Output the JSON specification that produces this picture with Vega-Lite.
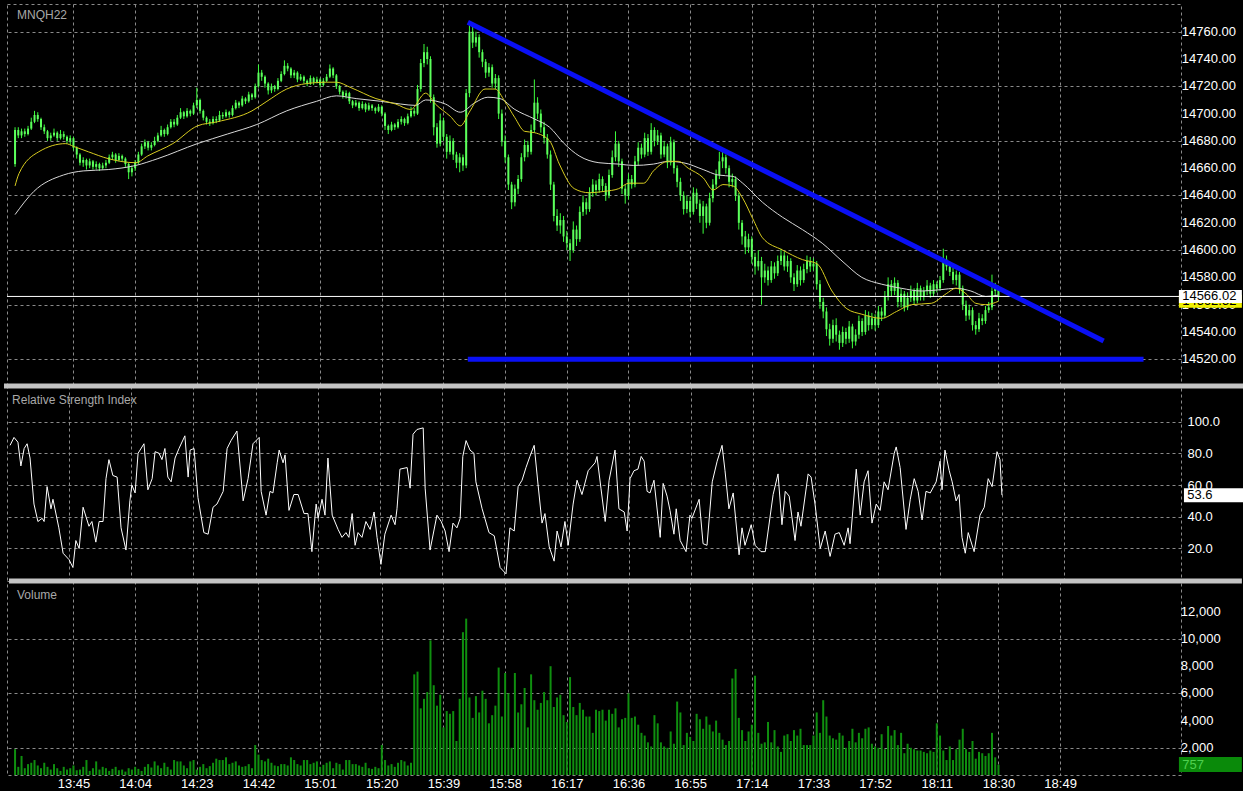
{
"$schema":"https://vega.github.io/schema/vega-lite/v6.json",
"background":"#000000",
"padding":{"left":0,"top":3,"right":0,"bottom":0},
"spacing":0,
"bounds":"flush",
"config":{
 "view":{"stroke":"#8a8a8a","strokeDash":[3,3]},
 "axis":{"gridColor":"#8a8a8a","gridDash":[3,3],"gridOpacity":1,"gridWidth":1,"labelColor":"#ffffff","labelFont":"Liberation Sans","labelFontSize":13,"labelOverlap":false,"labelBound":false,"labelFlush":false,"domain":false,"ticks":false,"title":null},
 "text":{"font":"Liberation Sans"}
},
"datasets":{
"one":[{}],
"plab":[{"p":14520},{"p":14540},{"p":14560},{"p":14580},{"p":14600},{"p":14620},{"p":14640},{"p":14660},{"p":14680},{"p":14700},{"p":14720},{"p":14740},{"p":14760}],
"vlab":[{"q":2000},{"q":4000},{"q":6000},{"q":8000},{"q":10000},{"q":12000}],
"bars":[
{"t":807,"o":14663,"h":14690,"l":14661,"c":14688,"v":1900},
{"t":808,"o":14688,"h":14690,"l":14682,"c":14684,"v":600},
{"t":809,"o":14684,"h":14689,"l":14682,"c":14687,"v":1400},
{"t":810,"o":14687,"h":14689,"l":14683,"c":14685,"v":500},
{"t":811,"o":14685,"h":14691,"l":14684,"c":14689,"v":800},
{"t":812,"o":14689,"h":14697,"l":14688,"c":14694,"v":900},
{"t":813,"o":14694,"h":14702,"l":14693,"c":14699,"v":1100},
{"t":814,"o":14699,"h":14701,"l":14694,"c":14696,"v":700},
{"t":815,"o":14696,"h":14697,"l":14688,"c":14690,"v":500},
{"t":816,"o":14690,"h":14692,"l":14685,"c":14687,"v":900},
{"t":817,"o":14687,"h":14688,"l":14680,"c":14682,"v":600},
{"t":818,"o":14682,"h":14686,"l":14680,"c":14684,"v":400},
{"t":819,"o":14684,"h":14689,"l":14683,"c":14686,"v":800},
{"t":820,"o":14686,"h":14687,"l":14680,"c":14682,"v":500},
{"t":821,"o":14682,"h":14688,"l":14681,"c":14685,"v":300},
{"t":822,"o":14685,"h":14687,"l":14681,"c":14683,"v":600},
{"t":823,"o":14683,"h":14684,"l":14678,"c":14680,"v":400},
{"t":824,"o":14680,"h":14684,"l":14677,"c":14682,"v":500},
{"t":825,"o":14682,"h":14683,"l":14673,"c":14675,"v":700},
{"t":826,"o":14675,"h":14676,"l":14667,"c":14670,"v":350},
{"t":827,"o":14670,"h":14671,"l":14662,"c":14664,"v":400},
{"t":828,"o":14664,"h":14668,"l":14661,"c":14666,"v":600},
{"t":829,"o":14666,"h":14667,"l":14659,"c":14662,"v":1100},
{"t":830,"o":14662,"h":14667,"l":14660,"c":14665,"v":300},
{"t":831,"o":14665,"h":14666,"l":14659,"c":14661,"v":500},
{"t":832,"o":14661,"h":14665,"l":14659,"c":14663,"v":1000},
{"t":833,"o":14663,"h":14664,"l":14658,"c":14660,"v":400},
{"t":834,"o":14660,"h":14664,"l":14659,"c":14662,"v":600},
{"t":835,"o":14662,"h":14666,"l":14660,"c":14664,"v":500},
{"t":836,"o":14664,"h":14670,"l":14663,"c":14668,"v":300},
{"t":837,"o":14668,"h":14672,"l":14666,"c":14670,"v":450},
{"t":838,"o":14670,"h":14671,"l":14664,"c":14666,"v":600},
{"t":839,"o":14666,"h":14671,"l":14665,"c":14669,"v":350},
{"t":840,"o":14669,"h":14670,"l":14665,"c":14667,"v":400},
{"t":841,"o":14667,"h":14668,"l":14661,"c":14663,"v":250},
{"t":842,"o":14663,"h":14664,"l":14652,"c":14657,"v":500},
{"t":843,"o":14657,"h":14662,"l":14654,"c":14660,"v":400},
{"t":844,"o":14660,"h":14666,"l":14658,"c":14664,"v":600},
{"t":845,"o":14664,"h":14672,"l":14663,"c":14670,"v":450},
{"t":846,"o":14670,"h":14678,"l":14669,"c":14676,"v":300},
{"t":847,"o":14676,"h":14681,"l":14674,"c":14679,"v":600},
{"t":848,"o":14679,"h":14680,"l":14673,"c":14675,"v":800},
{"t":849,"o":14675,"h":14679,"l":14673,"c":14677,"v":550},
{"t":850,"o":14677,"h":14683,"l":14676,"c":14680,"v":1000},
{"t":851,"o":14680,"h":14686,"l":14679,"c":14684,"v":700},
{"t":852,"o":14684,"h":14691,"l":14683,"c":14688,"v":500},
{"t":853,"o":14688,"h":14689,"l":14683,"c":14685,"v":900},
{"t":854,"o":14685,"h":14692,"l":14684,"c":14690,"v":600},
{"t":855,"o":14690,"h":14696,"l":14689,"c":14694,"v":400},
{"t":856,"o":14694,"h":14696,"l":14690,"c":14692,"v":1100},
{"t":857,"o":14692,"h":14699,"l":14691,"c":14697,"v":1000},
{"t":858,"o":14697,"h":14704,"l":14696,"c":14701,"v":1000},
{"t":859,"o":14701,"h":14702,"l":14696,"c":14698,"v":700},
{"t":860,"o":14698,"h":14704,"l":14697,"c":14702,"v":500},
{"t":861,"o":14702,"h":14703,"l":14698,"c":14700,"v":1000},
{"t":862,"o":14700,"h":14708,"l":14699,"c":14706,"v":1100},
{"t":863,"o":14706,"h":14719,"l":14704,"c":14710,"v":400},
{"t":864,"o":14710,"h":14711,"l":14700,"c":14702,"v":600},
{"t":865,"o":14702,"h":14703,"l":14695,"c":14697,"v":800},
{"t":866,"o":14697,"h":14698,"l":14692,"c":14694,"v":500},
{"t":867,"o":14694,"h":14696,"l":14691,"c":14693,"v":650},
{"t":868,"o":14693,"h":14698,"l":14692,"c":14696,"v":900},
{"t":869,"o":14696,"h":14698,"l":14693,"c":14695,"v":1200},
{"t":870,"o":14695,"h":14702,"l":14694,"c":14699,"v":1100},
{"t":871,"o":14699,"h":14701,"l":14696,"c":14698,"v":1100},
{"t":872,"o":14698,"h":14703,"l":14697,"c":14701,"v":1300},
{"t":873,"o":14701,"h":14702,"l":14697,"c":14699,"v":800},
{"t":874,"o":14699,"h":14706,"l":14698,"c":14704,"v":900},
{"t":875,"o":14704,"h":14710,"l":14703,"c":14708,"v":1000},
{"t":876,"o":14708,"h":14709,"l":14704,"c":14706,"v":700},
{"t":877,"o":14706,"h":14713,"l":14705,"c":14711,"v":600},
{"t":878,"o":14711,"h":14712,"l":14707,"c":14709,"v":650},
{"t":879,"o":14709,"h":14716,"l":14708,"c":14714,"v":800},
{"t":880,"o":14714,"h":14715,"l":14710,"c":14712,"v":500},
{"t":881,"o":14712,"h":14722,"l":14711,"c":14720,"v":2200},
{"t":882,"o":14720,"h":14736,"l":14719,"c":14730,"v":1500},
{"t":883,"o":14730,"h":14732,"l":14724,"c":14727,"v":1100},
{"t":884,"o":14727,"h":14728,"l":14719,"c":14722,"v":1000},
{"t":885,"o":14722,"h":14723,"l":14714,"c":14717,"v":1200},
{"t":886,"o":14717,"h":14722,"l":14715,"c":14720,"v":900},
{"t":887,"o":14720,"h":14721,"l":14716,"c":14718,"v":700},
{"t":888,"o":14718,"h":14726,"l":14717,"c":14724,"v":650},
{"t":889,"o":14724,"h":14731,"l":14723,"c":14729,"v":800},
{"t":890,"o":14729,"h":14739,"l":14728,"c":14735,"v":800},
{"t":891,"o":14735,"h":14737,"l":14731,"c":14733,"v":700},
{"t":892,"o":14733,"h":14734,"l":14726,"c":14728,"v":1300},
{"t":893,"o":14728,"h":14732,"l":14726,"c":14730,"v":1100},
{"t":894,"o":14730,"h":14731,"l":14723,"c":14725,"v":800},
{"t":895,"o":14725,"h":14729,"l":14724,"c":14727,"v":700},
{"t":896,"o":14727,"h":14728,"l":14722,"c":14724,"v":1100},
{"t":897,"o":14724,"h":14725,"l":14720,"c":14722,"v":1100},
{"t":898,"o":14722,"h":14728,"l":14721,"c":14726,"v":800},
{"t":899,"o":14726,"h":14727,"l":14721,"c":14723,"v":900},
{"t":900,"o":14723,"h":14727,"l":14722,"c":14725,"v":1000},
{"t":901,"o":14725,"h":14726,"l":14719,"c":14721,"v":600},
{"t":902,"o":14721,"h":14726,"l":14720,"c":14724,"v":750},
{"t":903,"o":14724,"h":14729,"l":14723,"c":14727,"v":900},
{"t":904,"o":14727,"h":14736,"l":14726,"c":14733,"v":1000},
{"t":905,"o":14733,"h":14734,"l":14726,"c":14728,"v":500},
{"t":906,"o":14728,"h":14729,"l":14718,"c":14720,"v":900},
{"t":907,"o":14720,"h":14721,"l":14714,"c":14716,"v":800},
{"t":908,"o":14716,"h":14717,"l":14711,"c":14713,"v":400},
{"t":909,"o":14713,"h":14717,"l":14711,"c":14715,"v":1100},
{"t":910,"o":14715,"h":14716,"l":14707,"c":14709,"v":1100},
{"t":911,"o":14709,"h":14710,"l":14704,"c":14706,"v":800},
{"t":912,"o":14706,"h":14710,"l":14705,"c":14708,"v":800},
{"t":913,"o":14708,"h":14709,"l":14702,"c":14704,"v":700},
{"t":914,"o":14704,"h":14709,"l":14703,"c":14707,"v":600},
{"t":915,"o":14707,"h":14708,"l":14701,"c":14703,"v":900},
{"t":916,"o":14703,"h":14708,"l":14702,"c":14706,"v":500},
{"t":917,"o":14706,"h":14707,"l":14702,"c":14704,"v":450},
{"t":918,"o":14704,"h":14705,"l":14700,"c":14702,"v":600},
{"t":919,"o":14702,"h":14707,"l":14701,"c":14705,"v":500},
{"t":920,"o":14705,"h":14706,"l":14698,"c":14700,"v":2200},
{"t":921,"o":14700,"h":14701,"l":14688,"c":14691,"v":1100},
{"t":922,"o":14691,"h":14692,"l":14685,"c":14688,"v":700},
{"t":923,"o":14688,"h":14694,"l":14687,"c":14692,"v":800},
{"t":924,"o":14692,"h":14693,"l":14688,"c":14690,"v":600},
{"t":925,"o":14690,"h":14696,"l":14689,"c":14694,"v":900},
{"t":926,"o":14694,"h":14698,"l":14692,"c":14696,"v":1100},
{"t":927,"o":14696,"h":14697,"l":14691,"c":14693,"v":1000},
{"t":928,"o":14693,"h":14700,"l":14692,"c":14698,"v":700},
{"t":929,"o":14698,"h":14705,"l":14697,"c":14702,"v":900},
{"t":930,"o":14702,"h":14704,"l":14698,"c":14700,"v":7400},
{"t":931,"o":14700,"h":14721,"l":14699,"c":14718,"v":7600},
{"t":932,"o":14718,"h":14740,"l":14716,"c":14737,"v":4900},
{"t":933,"o":14737,"h":14751,"l":14734,"c":14745,"v":5600},
{"t":934,"o":14745,"h":14749,"l":14736,"c":14740,"v":6100},
{"t":935,"o":14740,"h":14742,"l":14708,"c":14712,"v":9900},
{"t":936,"o":14712,"h":14714,"l":14684,"c":14690,"v":6600},
{"t":937,"o":14690,"h":14693,"l":14675,"c":14678,"v":5100},
{"t":938,"o":14678,"h":14700,"l":14676,"c":14695,"v":5900},
{"t":939,"o":14695,"h":14697,"l":14680,"c":14683,"v":3500},
{"t":940,"o":14683,"h":14685,"l":14667,"c":14672,"v":4700},
{"t":941,"o":14672,"h":14684,"l":14670,"c":14680,"v":4500},
{"t":942,"o":14680,"h":14682,"l":14666,"c":14670,"v":4700},
{"t":943,"o":14670,"h":14672,"l":14660,"c":14664,"v":2500},
{"t":944,"o":14664,"h":14671,"l":14657,"c":14668,"v":5600},
{"t":945,"o":14668,"h":14670,"l":14658,"c":14662,"v":10500},
{"t":946,"o":14662,"h":14718,"l":14660,"c":14715,"v":11500},
{"t":947,"o":14715,"h":14767,"l":14712,"c":14760,"v":5700},
{"t":948,"o":14760,"h":14764,"l":14748,"c":14752,"v":4200},
{"t":949,"o":14752,"h":14760,"l":14749,"c":14756,"v":5800},
{"t":950,"o":14756,"h":14758,"l":14741,"c":14745,"v":4600},
{"t":951,"o":14745,"h":14747,"l":14734,"c":14738,"v":6200},
{"t":952,"o":14738,"h":14740,"l":14726,"c":14730,"v":5600},
{"t":953,"o":14730,"h":14737,"l":14727,"c":14734,"v":3800},
{"t":954,"o":14734,"h":14736,"l":14719,"c":14722,"v":4400},
{"t":955,"o":14722,"h":14729,"l":14718,"c":14726,"v":5100},
{"t":956,"o":14726,"h":14728,"l":14696,"c":14700,"v":7900},
{"t":957,"o":14700,"h":14703,"l":14676,"c":14680,"v":4300},
{"t":958,"o":14680,"h":14684,"l":14664,"c":14668,"v":7500},
{"t":959,"o":14668,"h":14670,"l":14644,"c":14648,"v":6000},
{"t":960,"o":14648,"h":14650,"l":14630,"c":14635,"v":2000},
{"t":961,"o":14635,"h":14648,"l":14632,"c":14645,"v":7500},
{"t":962,"o":14645,"h":14655,"l":14641,"c":14652,"v":4600},
{"t":963,"o":14652,"h":14671,"l":14650,"c":14668,"v":5200},
{"t":964,"o":14668,"h":14681,"l":14665,"c":14677,"v":6400},
{"t":965,"o":14677,"h":14680,"l":14668,"c":14672,"v":3500},
{"t":966,"o":14672,"h":14692,"l":14670,"c":14688,"v":7400},
{"t":967,"o":14688,"h":14725,"l":14686,"c":14708,"v":5500},
{"t":968,"o":14708,"h":14712,"l":14696,"c":14700,"v":4800},
{"t":969,"o":14700,"h":14703,"l":14686,"c":14690,"v":5300},
{"t":970,"o":14690,"h":14694,"l":14678,"c":14682,"v":6100},
{"t":971,"o":14682,"h":14685,"l":14667,"c":14670,"v":5500},
{"t":972,"o":14670,"h":14673,"l":14644,"c":14648,"v":8000},
{"t":973,"o":14648,"h":14650,"l":14621,"c":14625,"v":5000},
{"t":974,"o":14625,"h":14630,"l":14614,"c":14618,"v":5700},
{"t":975,"o":14618,"h":14627,"l":14612,"c":14622,"v":5900},
{"t":976,"o":14622,"h":14625,"l":14606,"c":14610,"v":4400},
{"t":977,"o":14610,"h":14614,"l":14600,"c":14605,"v":3900},
{"t":978,"o":14605,"h":14608,"l":14592,"c":14600,"v":7200},
{"t":979,"o":14600,"h":14621,"l":14598,"c":14615,"v":5000},
{"t":980,"o":14615,"h":14618,"l":14603,"c":14608,"v":4400},
{"t":981,"o":14608,"h":14632,"l":14606,"c":14628,"v":5300},
{"t":982,"o":14628,"h":14640,"l":14625,"c":14635,"v":4800},
{"t":983,"o":14635,"h":14638,"l":14626,"c":14630,"v":4300},
{"t":984,"o":14630,"h":14646,"l":14628,"c":14642,"v":4300},
{"t":985,"o":14642,"h":14652,"l":14639,"c":14648,"v":3100},
{"t":986,"o":14648,"h":14651,"l":14640,"c":14644,"v":4800},
{"t":987,"o":14644,"h":14656,"l":14642,"c":14652,"v":4700},
{"t":988,"o":14652,"h":14654,"l":14643,"c":14647,"v":4800},
{"t":989,"o":14647,"h":14649,"l":14636,"c":14640,"v":4000},
{"t":990,"o":14640,"h":14659,"l":14638,"c":14655,"v":4800},
{"t":991,"o":14655,"h":14673,"l":14653,"c":14668,"v":4500},
{"t":992,"o":14668,"h":14687,"l":14665,"c":14678,"v":4900},
{"t":993,"o":14678,"h":14680,"l":14661,"c":14665,"v":3500},
{"t":994,"o":14665,"h":14667,"l":14641,"c":14645,"v":4100},
{"t":995,"o":14645,"h":14648,"l":14634,"c":14640,"v":4200},
{"t":996,"o":14640,"h":14656,"l":14637,"c":14652,"v":6000},
{"t":997,"o":14652,"h":14655,"l":14645,"c":14648,"v":4200},
{"t":998,"o":14648,"h":14669,"l":14646,"c":14665,"v":4300},
{"t":999,"o":14665,"h":14679,"l":14662,"c":14675,"v":3700},
{"t":1000,"o":14675,"h":14678,"l":14667,"c":14670,"v":3100},
{"t":1001,"o":14670,"h":14686,"l":14668,"c":14682,"v":2900},
{"t":1002,"o":14682,"h":14685,"l":14669,"c":14672,"v":2400},
{"t":1003,"o":14672,"h":14693,"l":14670,"c":14688,"v":2100},
{"t":1004,"o":14688,"h":14690,"l":14676,"c":14680,"v":4400},
{"t":1005,"o":14680,"h":14688,"l":14677,"c":14684,"v":3800},
{"t":1006,"o":14684,"h":14686,"l":14667,"c":14670,"v":2400},
{"t":1007,"o":14670,"h":14680,"l":14668,"c":14676,"v":2100},
{"t":1008,"o":14676,"h":14678,"l":14660,"c":14664,"v":2000},
{"t":1009,"o":14664,"h":14683,"l":14662,"c":14679,"v":3200},
{"t":1010,"o":14679,"h":14681,"l":14656,"c":14660,"v":2300},
{"t":1011,"o":14660,"h":14662,"l":14646,"c":14650,"v":5400},
{"t":1012,"o":14650,"h":14653,"l":14636,"c":14640,"v":4600},
{"t":1013,"o":14640,"h":14643,"l":14626,"c":14630,"v":2200},
{"t":1014,"o":14630,"h":14640,"l":14627,"c":14636,"v":3100},
{"t":1015,"o":14636,"h":14639,"l":14624,"c":14628,"v":2800},
{"t":1016,"o":14628,"h":14646,"l":14626,"c":14642,"v":2500},
{"t":1017,"o":14642,"h":14645,"l":14630,"c":14634,"v":4500},
{"t":1018,"o":14634,"h":14637,"l":14620,"c":14625,"v":4100},
{"t":1019,"o":14625,"h":14636,"l":14612,"c":14632,"v":3400},
{"t":1020,"o":14632,"h":14634,"l":14616,"c":14620,"v":4300},
{"t":1021,"o":14620,"h":14642,"l":14618,"c":14638,"v":3700},
{"t":1022,"o":14638,"h":14652,"l":14635,"c":14648,"v":3200},
{"t":1023,"o":14648,"h":14659,"l":14645,"c":14655,"v":4000},
{"t":1024,"o":14655,"h":14672,"l":14652,"c":14665,"v":3100},
{"t":1025,"o":14665,"h":14672,"l":14660,"c":14668,"v":2600},
{"t":1026,"o":14668,"h":14670,"l":14656,"c":14660,"v":2200},
{"t":1027,"o":14660,"h":14662,"l":14646,"c":14650,"v":2500},
{"t":1028,"o":14650,"h":14656,"l":14646,"c":14652,"v":7100},
{"t":1029,"o":14652,"h":14654,"l":14636,"c":14640,"v":7800},
{"t":1030,"o":14640,"h":14642,"l":14615,"c":14620,"v":4200},
{"t":1031,"o":14620,"h":14622,"l":14604,"c":14610,"v":3300},
{"t":1032,"o":14610,"h":14614,"l":14597,"c":14602,"v":2500},
{"t":1033,"o":14602,"h":14612,"l":14598,"c":14608,"v":3200},
{"t":1034,"o":14608,"h":14610,"l":14590,"c":14595,"v":3700},
{"t":1035,"o":14595,"h":14598,"l":14582,"c":14588,"v":7300},
{"t":1036,"o":14588,"h":14600,"l":14585,"c":14592,"v":3100},
{"t":1037,"o":14592,"h":14595,"l":14560,"c":14580,"v":2300},
{"t":1038,"o":14580,"h":14590,"l":14576,"c":14585,"v":2400},
{"t":1039,"o":14585,"h":14588,"l":14574,"c":14578,"v":3900},
{"t":1040,"o":14578,"h":14592,"l":14576,"c":14588,"v":2400},
{"t":1041,"o":14588,"h":14591,"l":14579,"c":14583,"v":3300},
{"t":1042,"o":14583,"h":14596,"l":14581,"c":14592,"v":2100},
{"t":1043,"o":14592,"h":14601,"l":14589,"c":14596,"v":1700},
{"t":1044,"o":14596,"h":14599,"l":14585,"c":14588,"v":2900},
{"t":1045,"o":14588,"h":14596,"l":14584,"c":14592,"v":3000},
{"t":1046,"o":14592,"h":14594,"l":14576,"c":14580,"v":2500},
{"t":1047,"o":14580,"h":14583,"l":14570,"c":14575,"v":3300},
{"t":1048,"o":14575,"h":14589,"l":14573,"c":14585,"v":2900},
{"t":1049,"o":14585,"h":14588,"l":14574,"c":14578,"v":3400},
{"t":1050,"o":14578,"h":14590,"l":14576,"c":14586,"v":2200},
{"t":1051,"o":14586,"h":14596,"l":14583,"c":14592,"v":2200},
{"t":1052,"o":14592,"h":14595,"l":14584,"c":14588,"v":2200},
{"t":1053,"o":14588,"h":14594,"l":14585,"c":14590,"v":2900},
{"t":1054,"o":14590,"h":14592,"l":14571,"c":14575,"v":4600},
{"t":1055,"o":14575,"h":14578,"l":14557,"c":14562,"v":3100},
{"t":1056,"o":14562,"h":14565,"l":14550,"c":14555,"v":5500},
{"t":1057,"o":14555,"h":14558,"l":14537,"c":14542,"v":4300},
{"t":1058,"o":14542,"h":14546,"l":14530,"c":14535,"v":2900},
{"t":1059,"o":14535,"h":14549,"l":14532,"c":14545,"v":2700},
{"t":1060,"o":14545,"h":14550,"l":14533,"c":14538,"v":2600},
{"t":1061,"o":14538,"h":14541,"l":14527,"c":14532,"v":3100},
{"t":1062,"o":14532,"h":14544,"l":14529,"c":14540,"v":2900},
{"t":1063,"o":14540,"h":14543,"l":14531,"c":14535,"v":2000},
{"t":1064,"o":14535,"h":14548,"l":14532,"c":14544,"v":2500},
{"t":1065,"o":14544,"h":14546,"l":14528,"c":14533,"v":3400},
{"t":1066,"o":14533,"h":14542,"l":14530,"c":14538,"v":2400},
{"t":1067,"o":14538,"h":14552,"l":14535,"c":14548,"v":3100},
{"t":1068,"o":14548,"h":14550,"l":14537,"c":14540,"v":2700},
{"t":1069,"o":14540,"h":14556,"l":14538,"c":14552,"v":3400},
{"t":1070,"o":14552,"h":14555,"l":14541,"c":14545,"v":3500},
{"t":1071,"o":14545,"h":14554,"l":14542,"c":14550,"v":2300},
{"t":1072,"o":14550,"h":14553,"l":14541,"c":14545,"v":2100},
{"t":1073,"o":14545,"h":14559,"l":14543,"c":14555,"v":2000},
{"t":1074,"o":14555,"h":14558,"l":14548,"c":14552,"v":3000},
{"t":1075,"o":14552,"h":14570,"l":14550,"c":14566,"v":1900},
{"t":1076,"o":14566,"h":14580,"l":14563,"c":14575,"v":3600},
{"t":1077,"o":14575,"h":14578,"l":14566,"c":14570,"v":2900},
{"t":1078,"o":14570,"h":14580,"l":14567,"c":14576,"v":3300},
{"t":1079,"o":14576,"h":14578,"l":14558,"c":14562,"v":2200},
{"t":1080,"o":14562,"h":14572,"l":14558,"c":14568,"v":3100},
{"t":1081,"o":14568,"h":14570,"l":14555,"c":14558,"v":1600},
{"t":1082,"o":14558,"h":14569,"l":14556,"c":14565,"v":2300},
{"t":1083,"o":14565,"h":14574,"l":14562,"c":14570,"v":2000},
{"t":1084,"o":14570,"h":14572,"l":14560,"c":14563,"v":1900},
{"t":1085,"o":14563,"h":14576,"l":14561,"c":14572,"v":1800},
{"t":1086,"o":14572,"h":14574,"l":14563,"c":14566,"v":1800},
{"t":1087,"o":14566,"h":14573,"l":14563,"c":14570,"v":1700},
{"t":1088,"o":14570,"h":14578,"l":14567,"c":14574,"v":1600},
{"t":1089,"o":14574,"h":14576,"l":14565,"c":14568,"v":1800},
{"t":1090,"o":14568,"h":14578,"l":14566,"c":14575,"v":1700},
{"t":1091,"o":14575,"h":14577,"l":14569,"c":14572,"v":3800},
{"t":1092,"o":14572,"h":14581,"l":14570,"c":14578,"v":2900},
{"t":1093,"o":14578,"h":14601,"l":14576,"c":14593,"v":1800},
{"t":1094,"o":14593,"h":14596,"l":14585,"c":14588,"v":1100},
{"t":1095,"o":14588,"h":14591,"l":14581,"c":14584,"v":2100},
{"t":1096,"o":14584,"h":14587,"l":14575,"c":14578,"v":1100},
{"t":1097,"o":14578,"h":14585,"l":14574,"c":14582,"v":1900},
{"t":1098,"o":14582,"h":14584,"l":14568,"c":14572,"v":2600},
{"t":1099,"o":14572,"h":14574,"l":14556,"c":14560,"v":3400},
{"t":1100,"o":14560,"h":14563,"l":14548,"c":14552,"v":1900},
{"t":1101,"o":14552,"h":14560,"l":14549,"c":14556,"v":1700},
{"t":1102,"o":14556,"h":14558,"l":14541,"c":14545,"v":2500},
{"t":1103,"o":14545,"h":14548,"l":14538,"c":14542,"v":1200},
{"t":1104,"o":14542,"h":14554,"l":14540,"c":14550,"v":1700},
{"t":1105,"o":14550,"h":14553,"l":14545,"c":14548,"v":1600},
{"t":1106,"o":14548,"h":14559,"l":14546,"c":14556,"v":1400},
{"t":1107,"o":14556,"h":14562,"l":14554,"c":14558,"v":1600},
{"t":1108,"o":14558,"h":14582,"l":14556,"c":14570,"v":3100},
{"t":1109,"o":14570,"h":14576,"l":14566,"c":14572,"v":1300},
{"t":1110,"o":14572,"h":14574,"l":14563,"c":14566.02,"v":757}
],
"ma1":[
{"t":807,"v":14647},{"t":808.2,"v":14656},{"t":814.3,"v":14672},{"t":822.6,"v":14678},{"t":825,"v":14676},{"t":829.6,"v":14672},{"t":835.7,"v":14667},{"t":844.2,"v":14664},{"t":847.9,"v":14669},{"t":855.6,"v":14678},{"t":863.2,"v":14691},{"t":869.3,"v":14694},{"t":880,"v":14702},{"t":884.6,"v":14709},{"t":890.7,"v":14718},{"t":896.8,"v":14722},{"t":902.9,"v":14723},{"t":906,"v":14723},{"t":910.5,"v":14719},{"t":918.2,"v":14711},{"t":924.3,"v":14707},{"t":928.9,"v":14703},{"t":933.5,"v":14715},{"t":936.5,"v":14707},{"t":941.1,"v":14698},{"t":944.2,"v":14691},{"t":947.2,"v":14702},{"t":951.8,"v":14718},{"t":954.9,"v":14718},{"t":957.9,"v":14709},{"t":961,"v":14697},{"t":964,"v":14687},{"t":967.1,"v":14686},{"t":971.7,"v":14680},{"t":974.7,"v":14663},{"t":979.3,"v":14645},{"t":983.9,"v":14642},{"t":988.5,"v":14643},{"t":993,"v":14645},{"t":996.1,"v":14649},{"t":1000.7,"v":14649},{"t":1003.7,"v":14658},{"t":1008.3,"v":14665},{"t":1011.4,"v":14665},{"t":1014.4,"v":14660},{"t":1019,"v":14653},{"t":1022.1,"v":14644},{"t":1025.1,"v":14648},{"t":1028.2,"v":14647},{"t":1031.2,"v":14638},{"t":1034.3,"v":14623},{"t":1037.3,"v":14609},{"t":1043.5,"v":14600},{"t":1049.6,"v":14593},{"t":1054.1,"v":14590},{"t":1058.7,"v":14570},{"t":1063.3,"v":14557},{"t":1067.9,"v":14553},{"t":1074,"v":14550},{"t":1078.6,"v":14555},{"t":1083.2,"v":14560},{"t":1089.3,"v":14561},{"t":1093.9,"v":14568},{"t":1096.9,"v":14572},{"t":1100,"v":14568},{"t":1103,"v":14561},{"t":1106.1,"v":14560},{"t":1110,"v":14562.5}
],
"ma2":[
{"t":807,"v":14626},{"t":812.8,"v":14643},{"t":821.9,"v":14655},{"t":828,"v":14658},{"t":835.7,"v":14659},{"t":844.2,"v":14662},{"t":851,"v":14667},{"t":863.2,"v":14678},{"t":872.4,"v":14685},{"t":881.5,"v":14692},{"t":890.7,"v":14702},{"t":899.9,"v":14709},{"t":906,"v":14713},{"t":912.1,"v":14711},{"t":919.7,"v":14709},{"t":925.8,"v":14707},{"t":930.4,"v":14706},{"t":933.5,"v":14710},{"t":939.6,"v":14707},{"t":944.2,"v":14701},{"t":948.7,"v":14708},{"t":952.7,"v":14712},{"t":956.4,"v":14711},{"t":961,"v":14703},{"t":967.1,"v":14696},{"t":971.7,"v":14690},{"t":976.2,"v":14678},{"t":980.8,"v":14669},{"t":986.9,"v":14664},{"t":993,"v":14663},{"t":997.6,"v":14662},{"t":1003.7,"v":14663},{"t":1008.3,"v":14665},{"t":1012.9,"v":14664},{"t":1019,"v":14659},{"t":1023.6,"v":14655},{"t":1028.2,"v":14654},{"t":1031.2,"v":14649},{"t":1037.3,"v":14635},{"t":1043.5,"v":14624},{"t":1049.6,"v":14615},{"t":1055.7,"v":14605},{"t":1061.8,"v":14592},{"t":1067.9,"v":14580},{"t":1074,"v":14575},{"t":1080.1,"v":14572},{"t":1086.2,"v":14570},{"t":1092.3,"v":14571},{"t":1096.9,"v":14572},{"t":1101.5,"v":14570},{"t":1106.1,"v":14566},{"t":1110,"v":14567}
],
"trend":[
{"k":"a","t":946.5,"p":14767},{"k":"a","t":1142.4,"p":14533.4},
{"k":"b","t":946.5,"p":14520},{"k":"b","t":1154.7,"p":14520}
],
"rsi":[
{"t":807,"r":85},{"t":808.2,"r":90},{"t":809.4,"r":87},{"t":810.3,"r":72},{"t":811.3,"r":83},{"t":812.2,"r":86},{"t":813.1,"r":77},{"t":814.3,"r":48},{"t":815.5,"r":37},{"t":816.8,"r":39},{"t":817.4,"r":37},{"t":818.3,"r":59},{"t":819.5,"r":45},{"t":820.1,"r":51},{"t":821.9,"r":33},{"t":823.2,"r":17},{"t":825,"r":13},{"t":826.2,"r":8},{"t":827.1,"r":25},{"t":828.1,"r":20},{"t":829.3,"r":46},{"t":831.1,"r":34},{"t":832,"r":37},{"t":833.2,"r":24},{"t":834.2,"r":37},{"t":835.4,"r":37},{"t":836.3,"r":64},{"t":837.2,"r":76},{"t":838.4,"r":66},{"t":839.7,"r":65},{"t":840.9,"r":33},{"t":842.4,"r":19},{"t":843.6,"r":50},{"t":844.2,"r":60},{"t":845.2,"r":55},{"t":846.1,"r":80},{"t":847.9,"r":86},{"t":849.1,"r":57},{"t":850.4,"r":64},{"t":851.3,"r":81},{"t":852.5,"r":80},{"t":853.4,"r":76},{"t":854.3,"r":83},{"t":855.2,"r":65},{"t":856.2,"r":62},{"t":857.4,"r":77},{"t":858.6,"r":83},{"t":860.4,"r":91},{"t":861.4,"r":65},{"t":862,"r":82},{"t":863.2,"r":83},{"t":864.4,"r":52},{"t":866.2,"r":30},{"t":867.5,"r":29},{"t":869,"r":46},{"t":870.2,"r":48},{"t":872.1,"r":56},{"t":873.3,"r":83},{"t":874.5,"r":88},{"t":876.3,"r":94},{"t":878.2,"r":50},{"t":879.7,"r":64},{"t":881.2,"r":86},{"t":883.1,"r":90},{"t":883.7,"r":56},{"t":885.2,"r":41},{"t":886.4,"r":56},{"t":887.3,"r":55},{"t":888.6,"r":74},{"t":889.2,"r":82},{"t":890.4,"r":74},{"t":891,"r":79},{"t":892.2,"r":44},{"t":893.7,"r":54},{"t":895,"r":54},{"t":896.8,"r":42},{"t":898,"r":42},{"t":899.2,"r":18},{"t":900.5,"r":48},{"t":901.1,"r":39},{"t":902.3,"r":51},{"t":903.2,"r":41},{"t":904.1,"r":77},{"t":905.4,"r":41},{"t":907.2,"r":32},{"t":908.4,"r":27},{"t":909.6,"r":30},{"t":910.5,"r":27},{"t":911.5,"r":42},{"t":912.4,"r":22},{"t":913.3,"r":30},{"t":914.5,"r":27},{"t":915.7,"r":37},{"t":917,"r":32},{"t":918.2,"r":43},{"t":919.1,"r":27},{"t":920.3,"r":10},{"t":921.5,"r":29},{"t":923.4,"r":41},{"t":924.6,"r":35},{"t":925.2,"r":45},{"t":926.1,"r":70},{"t":928.3,"r":71},{"t":929.2,"r":58},{"t":930.1,"r":92},{"t":931.3,"r":95},{"t":933.2,"r":96},{"t":933.8,"r":58},{"t":935.3,"r":19},{"t":937.4,"r":41},{"t":938.7,"r":37},{"t":939.9,"r":31},{"t":941.1,"r":18},{"t":942.3,"r":36},{"t":943.5,"r":33},{"t":944.5,"r":39},{"t":945.3,"r":78},{"t":946.3,"r":88},{"t":947.5,"r":82},{"t":948.7,"r":80},{"t":949.3,"r":62},{"t":951.2,"r":45},{"t":953.3,"r":30},{"t":954.9,"r":28},{"t":956.7,"r":8},{"t":958.5,"r":4},{"t":959.7,"r":33},{"t":961,"r":31},{"t":962.2,"r":59},{"t":963.4,"r":63},{"t":964.6,"r":71},{"t":965.8,"r":78},{"t":967.1,"r":85},{"t":968.3,"r":60},{"t":969.5,"r":36},{"t":970.4,"r":42},{"t":971.7,"r":21},{"t":973.2,"r":12},{"t":974.1,"r":31},{"t":975.3,"r":21},{"t":976.5,"r":37},{"t":977.5,"r":22},{"t":979,"r":48},{"t":980.2,"r":63},{"t":981.7,"r":54},{"t":983.6,"r":69},{"t":985.7,"r":74},{"t":986.3,"r":78},{"t":987.5,"r":58},{"t":988.8,"r":37},{"t":990,"r":63},{"t":991.8,"r":82},{"t":993,"r":45},{"t":994.6,"r":43},{"t":995.5,"r":31},{"t":996.4,"r":64},{"t":997.6,"r":69},{"t":998.8,"r":70},{"t":999.8,"r":78},{"t":1000.7,"r":75},{"t":1001.6,"r":56},{"t":1002.5,"r":55},{"t":1003.7,"r":63},{"t":1005.6,"r":27},{"t":1006.5,"r":61},{"t":1007.7,"r":53},{"t":1008.6,"r":44},{"t":1009.8,"r":29},{"t":1010.5,"r":45},{"t":1011.7,"r":25},{"t":1013.5,"r":18},{"t":1014.7,"r":41},{"t":1015.3,"r":39},{"t":1017.5,"r":51},{"t":1018.7,"r":23},{"t":1019.9,"r":22},{"t":1021.5,"r":62},{"t":1023,"r":75},{"t":1024.5,"r":85},{"t":1025.4,"r":69},{"t":1026.6,"r":45},{"t":1027.9,"r":55},{"t":1029.7,"r":16},{"t":1030.6,"r":33},{"t":1031.5,"r":22},{"t":1033.4,"r":35},{"t":1034.6,"r":22},{"t":1036.4,"r":18},{"t":1037.7,"r":18},{"t":1040.1,"r":54},{"t":1041.6,"r":67},{"t":1042.8,"r":35},{"t":1043.8,"r":56},{"t":1045,"r":53},{"t":1046.8,"r":25},{"t":1047.7,"r":43},{"t":1048.6,"r":34},{"t":1050.8,"r":67},{"t":1051.7,"r":65},{"t":1052.9,"r":48},{"t":1054.5,"r":20},{"t":1056,"r":31},{"t":1057.5,"r":15},{"t":1059,"r":29},{"t":1060.3,"r":30},{"t":1061.8,"r":22},{"t":1063,"r":33},{"t":1063.6,"r":23},{"t":1065.5,"r":70},{"t":1066.7,"r":41},{"t":1067.9,"r":62},{"t":1069.1,"r":69},{"t":1070.3,"r":36},{"t":1071.6,"r":48},{"t":1072.8,"r":44},{"t":1074,"r":62},{"t":1075.2,"r":57},{"t":1077.1,"r":80},{"t":1077.7,"r":84},{"t":1078.9,"r":71},{"t":1080.7,"r":32},{"t":1082,"r":51},{"t":1083.2,"r":64},{"t":1084.4,"r":56},{"t":1085.6,"r":38},{"t":1086.8,"r":56},{"t":1088.1,"r":55},{"t":1089.9,"r":62},{"t":1091.1,"r":75},{"t":1091.7,"r":57},{"t":1092.6,"r":82},{"t":1093.9,"r":69},{"t":1094.8,"r":62},{"t":1096,"r":50},{"t":1096.9,"r":54},{"t":1097.8,"r":27},{"t":1098.8,"r":17},{"t":1099.7,"r":30},{"t":1101.5,"r":18},{"t":1103.3,"r":41},{"t":1104.6,"r":46},{"t":1105.8,"r":64},{"t":1107,"r":59},{"t":1108.5,"r":81},{"t":1109.4,"r":76},{"t":1110,"r":53.6}
]
},
"vconcat":[
{
 "width":1174,"height":382,
 "layer":[
  {"data":{"name":"bars"},"mark":{"type":"rule","color":"#3cff3c","strokeWidth":1},
   "encoding":{
    "x":{"field":"t","type":"quantitative","scale":{"domain":[806.06,1164.7],"nice":false,"zero":false},
         "axis":{"values":[825,844,863,882,901,920,939,958,977,996,1015,1034,1053,1072,1091,1110,1129],"labels":false,"grid":true,"minExtent":0,"maxExtent":0}},
    "y":{"field":"l","type":"quantitative","scale":{"domain":[14500.4,14780.3],"nice":false,"zero":false},
         "axis":{"orient":"right","values":[14520,14540,14560,14580,14600,14620,14640,14660,14680,14700,14720,14740,14760],"labels":false,"grid":true}},
    "y2":{"field":"h"}}},
  {"data":{"name":"bars"},"mark":{"type":"bar","size":2,"color":"#5cff5c"},
   "encoding":{"x":{"field":"t","type":"quantitative"},"y":{"field":"o","type":"quantitative"},"y2":{"field":"c"}}},
  {"data":{"name":"ma2"},"mark":{"type":"line","color":"#d8d8d8","strokeWidth":1,"interpolate":"monotone"},
   "encoding":{"x":{"field":"t","type":"quantitative"},"y":{"field":"v","type":"quantitative"}}},
  {"data":{"name":"ma1"},"mark":{"type":"line","color":"#d8cc20","strokeWidth":1,"interpolate":"monotone"},
   "encoding":{"x":{"field":"t","type":"quantitative"},"y":{"field":"v","type":"quantitative"}}},
  {"data":{"name":"one"},"mark":{"type":"rule","color":"#ffffff","strokeWidth":1},"encoding":{"y":{"datum":14566.02}}},
  {"data":{"name":"trend"},"mark":{"type":"line","color":"#0a10f5","strokeWidth":5,"strokeCap":"butt"},
   "encoding":{"x":{"field":"t","type":"quantitative"},"y":{"field":"p","type":"quantitative"},"detail":{"field":"k"}}},
  {"data":{"name":"plab"},"mark":{"type":"text","align":"left","baseline":"middle","color":"#ffffff","fontSize":13},
   "encoding":{"x":{"datum":1166.5},"y":{"field":"p","type":"quantitative"},"text":{"field":"p","type":"quantitative","format":".2f"}}},
  {"data":{"name":"one"},"mark":{"type":"rect","color":"#f0f000"},"encoding":{"x":{"datum":1165.6},"x2":{"datum":1185},"y":{"datum":14567.3},"y2":{"datum":14557.7}}},
  {"data":{"name":"one"},"mark":{"type":"text","align":"left","baseline":"middle","color":"#000000","fontSize":13},"encoding":{"x":{"datum":1166.6},"y":{"datum":14562.52},"text":{"value":"14562.52"}}},
  {"data":{"name":"one"},"mark":{"type":"rect","color":"#ffffff"},"encoding":{"x":{"datum":1165.6},"x2":{"datum":1185},"y":{"datum":14570.8},"y2":{"datum":14561.3}}},
  {"data":{"name":"one"},"mark":{"type":"text","align":"left","baseline":"middle","color":"#000000","fontSize":13},"encoding":{"x":{"datum":1166.6},"y":{"datum":14566.02},"text":{"value":"14566.02"}}},
  {"data":{"name":"one"},"mark":{"type":"text","align":"left","baseline":"middle","color":"#a8a8a8","fontSize":12},"encoding":{"x":{"datum":807.6},"y":{"datum":14772},"text":{"value":"MNQH22"}}}
 ]
},
{
 "width":1174,"height":195,
 "layer":[
  {"data":{"name":"rsi"},"mark":{"type":"line","color":"#ffffff","strokeWidth":1},
   "encoding":{
    "x":{"field":"t","type":"quantitative","scale":{"domain":[806.06,1164.7],"nice":false,"zero":false},
         "axis":{"values":[825,844,863,882,901,920,939,958,977,996,1015,1034,1053,1072,1091,1110,1129],"labels":false,"grid":true,"minExtent":0,"maxExtent":0}},
    "y":{"field":"r","type":"quantitative","scale":{"domain":[-0.5,122.4],"nice":false,"zero":false},
         "axis":{"orient":"right","values":[20,40,60,80,100],"format":".1f","labelPadding":6}}}},
  {"data":{"name":"one"},"mark":{"type":"rule","color":"#c4c4c4","strokeWidth":5},"encoding":{"x":{"datum":805.14},"x2":{"datum":1185},"y":{"datum":122.4}}},
  {"data":{"name":"one"},"mark":{"type":"rect","color":"#ffffff"},"encoding":{"x":{"datum":1165.6},"x2":{"datum":1185},"y":{"datum":58.0},"y2":{"datum":49.2}}},
  {"data":{"name":"one"},"mark":{"type":"text","align":"left","baseline":"middle","color":"#000000","fontSize":13},"encoding":{"x":{"datum":1166.6},"y":{"datum":53.6},"text":{"value":"53.6"}}},
  {"data":{"name":"one"},"mark":{"type":"text","align":"left","baseline":"middle","color":"#a8a8a8","fontSize":12},"encoding":{"x":{"datum":807.6},"y":{"datum":113.6},"text":{"value":"Relative Strength Index"}}}
 ]
},
{
 "width":1174,"height":194,
 "layer":[
  {"data":{"name":"bars"},"mark":{"type":"bar","size":2,"color":"#0f8f0f"},
   "encoding":{
    "x":{"field":"t","type":"quantitative","scale":{"domain":[806.06,1164.7],"nice":false,"zero":false},
         "axis":{"values":[825,844,863,882,901,920,939,958,977,996,1015,1034,1053,1072,1091,1110,1129],"grid":true,"labelPadding":2,
                 "labelExpr":"floor(datum.value/60) + ':' + (datum.value%60 < 10 ? '0' : '') + (datum.value%60)"}},
    "y":{"field":"v","type":"quantitative","scale":{"domain":[0,14265],"nice":false,"zero":false},
         "axis":{"orient":"right","values":[2000,4000,6000,8000,10000,12000],"labels":false,"grid":true}}}},
  {"data":{"name":"vlab"},"mark":{"type":"text","align":"left","baseline":"middle","color":"#ffffff","fontSize":13},
   "encoding":{"x":{"datum":1166.2},"y":{"field":"q","type":"quantitative"},"text":{"field":"q","type":"quantitative","format":",d"}}},
  {"data":{"name":"one"},"mark":{"type":"rule","color":"#c4c4c4","strokeWidth":5},"encoding":{"x":{"datum":805.14},"x2":{"datum":1185},"y":{"datum":14265}}},
  {"data":{"name":"one"},"mark":{"type":"rect","color":"#0a8a0a"},"encoding":{"x":{"datum":1165.6},"x2":{"datum":1185},"y":{"datum":1316},"y2":{"datum":213}}},
  {"data":{"name":"one"},"mark":{"type":"text","align":"left","baseline":"middle","color":"#4fd04f","fontSize":13},"encoding":{"x":{"datum":1166.6},"y":{"datum":765},"text":{"value":"757"}}},
  {"data":{"name":"one"},"mark":{"type":"text","align":"left","baseline":"middle","color":"#a8a8a8","fontSize":12},"encoding":{"x":{"datum":807.6},"y":{"datum":13228},"text":{"value":"Volume"}}}
 ]
}
]
}
